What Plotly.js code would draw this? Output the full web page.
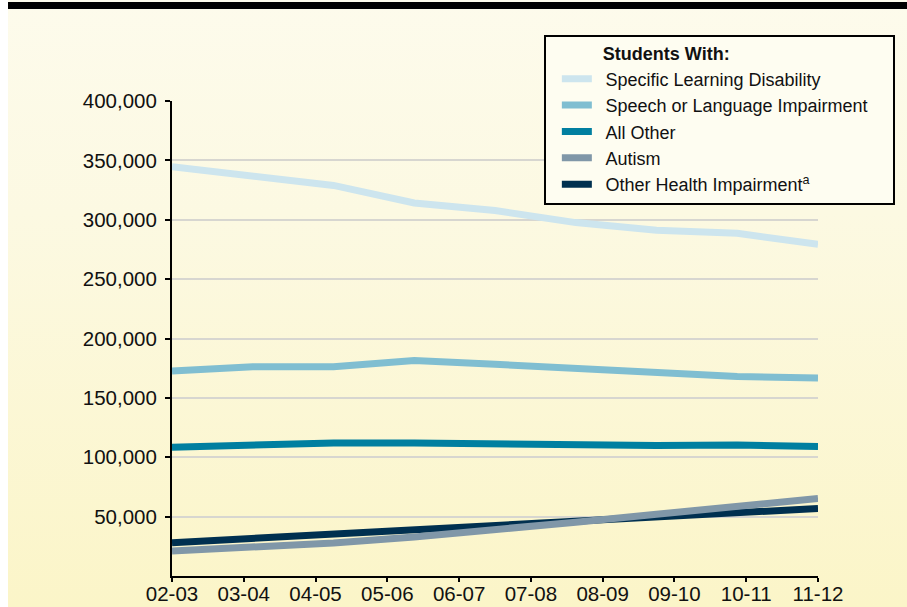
<!DOCTYPE html>
<html><head><meta charset="utf-8">
<script src="https://cdn.plot.ly/plotly-3.0.1.min.js"></script>
<style>
html,body{margin:0;padding:0;background:#fff;}
#wrap{position:relative;width:907px;height:607px;overflow:hidden;}
#bg{position:absolute;left:8px;top:0;right:0;bottom:0;background:linear-gradient(to bottom,#FDFBEC 0%,#FCF9E2 35%,#FBF5C8 100%);}
#bar{position:absolute;left:8px;top:2px;right:0;height:7px;background:#000;}
#chart{position:absolute;left:0;top:0;width:907px;height:607px;}
</style></head>
<body><div id="wrap"><div id="bg"></div><div id="bar"></div><div id="chart"></div></div>
<script>
// Year labels on the visible axis
const yearLabels = ['02-03','03-04','04-05','05-06','06-07','07-08','08-09','09-10','10-11','11-12'];
// The plotted lines have 9 evenly spaced points across the axis
const pointIndex = [0,1,2,3,4,5,6,7,8];
const specificLearningDisability = [344700, 337500, 328900, 314100, 307800, 297600, 291200, 288600, 279300];
const speechLanguage = [172600, 176300, 176300, 181500, 178300, 175100, 171700, 168100, 166700];
const allOther = [108500, 110500, 112000, 112000, 111000, 110000, 110000, 110300, 109000];
const autism = [21100, 24200, 27800, 32900, 38500, 45300, 52000, 58700, 65300];
const otherHealth = [28100, 31800, 35500, 39100, 42800, 46400, 50300, 53600, 56900];
const yTickValues = [50000, 100000, 150000, 200000, 250000, 300000, 350000, 400000];

const FONT = 'Liberation Sans, Arial, Helvetica, sans-serif';
const PRE = '\u00a0\u2009';
function line(name, y, color, rank) {
  return {type:'scatter', mode:'lines', name:PRE + name, x:pointIndex, y:y, xaxis:'x2', yaxis:'y',
          line:{color:color, width:7}, legendrank:rank, hoverinfo:'skip'};
}
const traces = [
  // invisible carrier trace so the category year axis is drawn
  {type:'scatter', mode:'lines', x:yearLabels, y:yearLabels.map(()=>null), xaxis:'x', yaxis:'y',
   showlegend:false, hoverinfo:'skip', line:{width:0}},
  line('Specific Learning Disability', specificLearningDisability, '#CDE5EE', 1),
  line('Speech or Language Impairment\u00a0\u00a0\u00a0\u00a0', speechLanguage, '#80BED1', 2),
  line('All Other', allOther, '#017FA0', 3),
  line('Other Health Impairment<sup>a</sup>', otherHealth, '#003050', 5),
  line('Autism', autism, '#8097A8', 4)
];
const plotLeft = 172, plotRight = 820, plotTop = 101, plotBottom = 576.5;
const pw = plotRight - plotLeft, ph = plotBottom - plotTop;
const layout = {
  width:907, height:607,
  margin:{l:plotLeft, r:907-plotRight, t:plotTop, b:607-plotBottom, pad:0},
  paper_bgcolor:'rgba(0,0,0,0)', plot_bgcolor:'rgba(0,0,0,0)',
  font:{family:FONT, color:'#111', size:20},
  showlegend:true,
  xaxis:{type:'category', range:[0, yearLabels.length-1],
         showgrid:false, zeroline:false, showline:true, linecolor:'#000', linewidth:2,
         ticks:'outside', ticklen:4, tickwidth:2, tickcolor:'#000', tickfont:{size:20.5},
         ticklabelstandoff:-6, fixedrange:true},
  xaxis2:{overlaying:'x', range:[0, pointIndex.length-1], visible:false, fixedrange:true},
  yaxis:{range:[0,400000], tickvals:yTickValues, tickformat:',d', showgrid:true, gridcolor:'#D7D6D0', gridwidth:2,
         zeroline:false, showline:true, linecolor:'#000', linewidth:2, ticks:'outside', ticklen:5, tickwidth:2,
         tickcolor:'#000', tickfont:{size:20.5}, ticklabelstandoff:4, fixedrange:true},
  legend:{x:(545-plotLeft)/pw, xanchor:'left', y:(plotBottom-35)/ph, yanchor:'top', indentation:11,
          bgcolor:'#FEFDF1', bordercolor:'#000', borderwidth:2, font:{size:18, color:'#111'},
          title:{text:'\u00a0\u00a0\u00a0\u00a0\u00a0\u00a0\u00a0\u00a0\u00a0\u00a0\u00a0<b>Students With:</b>', font:{size:18, color:'#111'}},
          tracegroupgap:0, itemwidth:30}
};
Plotly.newPlot('chart', traces, layout, {displayModeBar:false, staticPlot:true});
</script></body></html>
